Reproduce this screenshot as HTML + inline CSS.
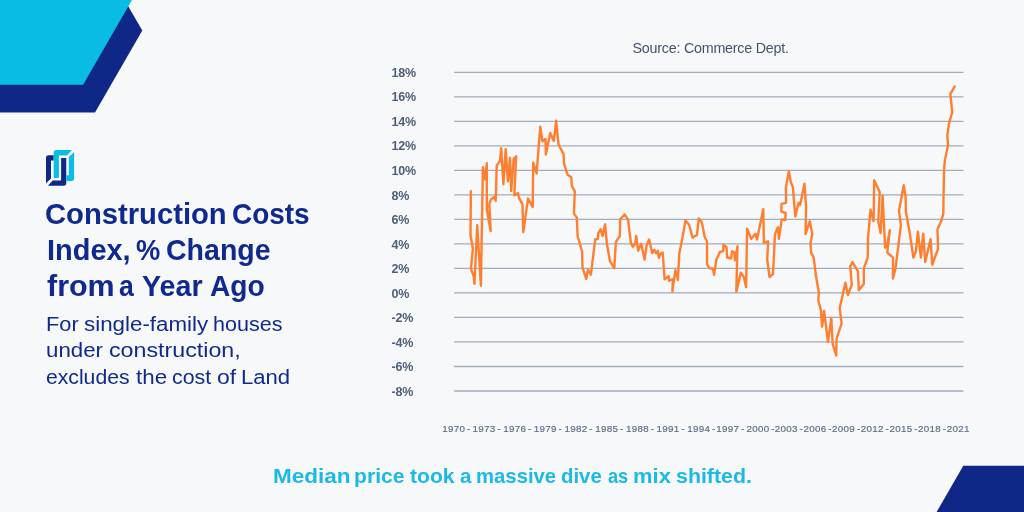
<!DOCTYPE html>
<html lang="en">
<head>
<meta charset="utf-8">
<title>Construction Costs Index</title>
<style>
html,body{margin:0;padding:0;}
body{width:1024px;height:512px;overflow:hidden;background:#f7f8fa;position:relative;font-family:"Liberation Sans",sans-serif;}
.abs{position:absolute;white-space:nowrap;}
svg{position:absolute;left:0;top:0;}
.w{position:absolute;white-space:nowrap;transform-origin:0 50%;}
.tt{font-weight:bold;font-size:29.5px;line-height:35.4px;color:#10298e;}
.ss{font-size:20.5px;line-height:24.6px;color:#10298e;}
.ff{font-weight:bold;font-size:21px;line-height:25.2px;color:#1bb9e4;}
.src{left:632.5px;top:38.9px;font-size:14.3px;line-height:18px;color:#44546a;letter-spacing:-0.23px;}
.yl{left:391.4px;font-size:12.5px;line-height:16px;color:#4f5f77;font-weight:bold;letter-spacing:-0.1px;}
.xl{top:423px;font-size:9.8px;line-height:12px;color:#5f6f85;-webkit-text-stroke:0.2px #5f6f85;letter-spacing:0.3px;word-spacing:-1.2px;}
</style>
</head>
<body>
<svg width="1024" height="512" viewBox="0 0 1024 512">
  <polygon points="0,0 124.6,0 142.3,30.6 95,112.6 0,112.6" fill="#0f2887"/>
  <polygon points="0,0 131.95,0 83.1,84.7 0,84.7" fill="#09bce4"/>
  <polygon points="963.3,465.8 1024,465.8 1024,512 936.6,512" fill="#0f2887"/>
  <g stroke="#a2adbc" stroke-width="1.3" fill="none">
    <line x1="454.1" x2="963.5" y1="72.30" y2="72.30"/>
    <line x1="454.1" x2="963.5" y1="96.81" y2="96.81"/>
    <line x1="454.1" x2="963.5" y1="121.33" y2="121.33"/>
    <line x1="454.1" x2="963.5" y1="145.84" y2="145.84"/>
    <line x1="454.1" x2="963.5" y1="170.36" y2="170.36"/>
    <line x1="454.1" x2="963.5" y1="194.88" y2="194.88"/>
    <line x1="454.1" x2="963.5" y1="219.39" y2="219.39"/>
    <line x1="454.1" x2="963.5" y1="243.91" y2="243.91"/>
    <line x1="454.1" x2="963.5" y1="268.42" y2="268.42"/>
    <line x1="454.1" x2="963.5" y1="292.94" y2="292.94"/>
    <line x1="454.1" x2="963.5" y1="317.45" y2="317.45"/>
    <line x1="454.1" x2="963.5" y1="341.97" y2="341.97"/>
    <line x1="454.1" x2="963.5" y1="366.48" y2="366.48"/>
    <line x1="454.1" x2="963.5" y1="391.00" y2="391.00"/>
  </g>
  <!--LINE--><polyline points="470.9,191.1 470.5,235.0 472.9,248.7 470.9,268.8 473.7,276.1 474.5,283.9 477.2,225.3 480.9,285.8 482.9,167.2 484.8,179.3 486.8,163.1 486.8,209.6 490.7,231.1 489.3,203.8 491.2,199.3 494.2,197.0 495.7,200.9 496.1,188.1 496.7,165.7 500.0,160.8 501.2,148.1 503.4,184.2 505.7,149.1 507.9,181.3 510.0,157.9 511.2,191.1 513.7,158.8 516.2,156.3 514.3,195.4 518.0,193.0 519.0,197.9 522.5,204.4 523.3,232.1 528.0,198.5 532.7,207.1 533.2,162.7 536.6,173.5 540.3,126.6 542.4,141.2 545.5,138.9 545.9,154.5 550.2,133.0 553.8,140.9 556.1,120.7 558.6,144.8 563.5,153.9 564.1,163.7 567.4,174.5 571.3,177.4 571.9,186.2 574.8,191.1 573.9,213.6 576.8,217.5 577.6,236.0 582.1,251.6 582.5,267.3 586.2,279.0 587.9,269.6 590.9,274.7 595.2,239.5 597.9,238.9 598.3,233.1 600.6,229.2 602.6,236.0 605.1,224.3 606.9,243.8 610.0,261.4 614.3,268.2 615.9,241.9 619.8,236.0 620.2,219.4 624.6,214.5 628.0,219.4 630.9,242.9 632.9,246.8 635.2,243.8 636.2,236.0 638.1,250.7 641.2,243.8 644.6,259.5 646.5,245.8 649.1,239.5 652.3,253.2 654.3,249.7 655.9,253.2 657.8,250.7 658.8,257.9 660.7,253.6 662.7,252.6 664.6,279.4 668.6,276.1 668.9,280.9 673.0,279.0 672.3,291.7 675.4,270.2 677.9,280.0 679.3,253.6 682.2,238.9 685.5,220.4 689.1,224.7 692.6,237.6 696.9,235.0 698.8,218.4 701.8,222.3 704.7,237.0 707.0,241.5 707.0,264.3 709.6,268.2 712.9,268.8 714.1,274.7 716.4,259.5 719.9,252.0 723.2,251.2 723.4,244.8 726.6,247.3 727.1,257.5 731.1,258.5 732.0,251.2 734.4,252.6 735.0,260.4 737.5,246.2 736.3,291.7 740.8,272.7 743.8,277.0 746.1,287.2 747.1,228.6 751.2,238.9 755.5,233.7 757.0,239.5 763.3,209.1 763.9,242.9 768.2,241.5 767.2,259.5 769.5,277.0 773.0,274.1 775.0,234.1 777.9,227.2 778.9,238.9 781.8,219.4 785.2,220.0 785.7,213.0 781.4,211.6 781.4,203.8 786.1,202.8 785.9,187.1 788.9,171.1 790.8,182.2 792.8,186.7 795.3,216.4 798.6,202.7 800.2,204.7 804.5,183.6 806.1,207.6 805.5,234.0 809.8,221.3 812.3,234.0 810.5,242.9 811.1,252.6 813.7,257.5 816.0,276.1 818.9,292.7 818.2,300.3 820.9,310.0 822.1,326.6 824.1,311.0 828.0,341.9 831.3,317.9 832.7,344.2 836.2,355.5 836.6,338.4 841.6,323.7 839.7,308.1 843.0,293.4 845.4,282.7 847.9,295.0 851.8,284.6 850.2,266.4 852.5,262.1 858.0,271.3 858.8,290.2 863.8,284.0 863.8,268.4 867.7,257.6 868.1,237.1 870.5,209.8 873.6,221.1 874.2,180.3 879.7,192.0 878.3,221.3 880.6,233.0 882.6,195.9 885.1,247.7 886.9,246.1 889.8,230.1 887.3,252.7 893.1,257.6 892.9,278.5 895.5,268.4 900.9,225.4 899.0,210.7 903.7,185.2 905.6,196.9 906.0,212.5 909.9,234.0 913.4,257.6 916.0,251.2 917.9,231.6 920.9,257.6 923.2,233.6 925.2,262.1 930.6,239.1 932.2,264.8 938.0,248.8 937.5,229.3 941.4,220.5 943.3,213.7 943.5,196.9 944.1,169.5 944.9,160.0 948.1,145.1 947.3,135.7 949.0,123.4 952.2,112.3 950.4,93.9 954.6,86.6" fill="none" stroke="#ff7f31" stroke-width="2.4" stroke-linejoin="round" stroke-linecap="round"/><!--/LINE-->
  <!--LOGO--><g>
    <path d="M48.5,155.3 H53.7 V160.5 H51 V178.4 L46,183.25 V157.8 Q46,155.3 48.5,155.3 Z" fill="#0f2887"/>
    <path d="M52.75,180.4 H61.1 V158 H66.25 V183.1 Q66.25,185.7 63.7,185.7 H47.9 Z" fill="#0f2887"/>
    <path d="M56.2,150.1 H71.9 L67.06,155.5 H58.9 V177 Q58.9,178 57.9,178 H54.7 Q53.7,178 53.7,177 V152.6 Q53.7,150.1 56.2,150.1 Z" fill="#0abde5"/>
    <path d="M74.1,152.1 V178.3 Q74.1,180.9 71.5,180.9 H66.25 V175.3 H68.8 V156.9 Z" fill="#0abde5"/>
  </g><!--/LOGO-->
</svg>
<div class="title">
<div class="ln"><span class="w tt" style="left:45.4px;top:196.2px;transform:scaleX(0.990)">Construction</span> <span class="w tt" style="left:231.9px;top:196.2px;transform:scaleX(0.947)">Costs</span></div>
<div class="ln"><span class="w tt" style="left:46.6px;top:231.9px;transform:scaleX(0.981)">Index,</span> <span class="w tt" style="left:135.9px;top:231.9px;transform:scaleX(0.925)">%</span> <span class="w tt" style="left:165.7px;top:231.9px;transform:scaleX(0.967)">Change</span></div>
<div class="ln"><span class="w tt" style="left:46.6px;top:267.6px;transform:scaleX(1.032)">from</span> <span class="w tt" style="left:118.5px;top:267.6px;transform:scaleX(0.902)">a</span> <span class="w tt" style="left:142.3px;top:267.6px;transform:scaleX(0.971)">Year</span> <span class="w tt" style="left:209.9px;top:267.6px;transform:scaleX(0.953)">Ago</span></div>
</div>
<div class="sub">
<div class="ln"><span class="w ss" style="left:45.7px;top:311.7px;transform:scaleX(1.061)">For</span> <span class="w ss" style="left:83.6px;top:311.7px;transform:scaleX(1.090)">single-family</span> <span class="w ss" style="left:213.1px;top:311.7px;transform:scaleX(1.051)">houses</span></div>
<div class="ln"><span class="w ss" style="left:45.7px;top:338.3px;transform:scaleX(1.086)">under</span> <span class="w ss" style="left:108.7px;top:338.3px;transform:scaleX(1.133)">construction,</span></div>
<div class="ln"><span class="w ss" style="left:46.1px;top:364.9px;transform:scaleX(1.032)">excludes</span> <span class="w ss" style="left:135.7px;top:364.9px;transform:scaleX(1.090)">the</span> <span class="w ss" style="left:171.6px;top:364.9px;transform:scaleX(1.041)">cost</span> <span class="w ss" style="left:217.0px;top:364.9px;transform:scaleX(1.120)">of</span> <span class="w ss" style="left:241.2px;top:364.9px;transform:scaleX(1.078)">Land</span></div>
</div>
<div class="foot">
<div class="ln"><span class="w ff" style="left:272.9px;top:463.4px;transform:scaleX(1.071)">Median</span> <span class="w ff" style="left:353.7px;top:463.4px;transform:scaleX(1.006)">price</span> <span class="w ff" style="left:410.1px;top:463.4px;transform:scaleX(1.000)">took</span> <span class="w ff" style="left:459.9px;top:463.4px;transform:scaleX(0.973)">a</span> <span class="w ff" style="left:476.1px;top:463.4px;transform:scaleX(0.967)">massive</span> <span class="w ff" style="left:561.4px;top:463.4px;transform:scaleX(0.970)">dive</span> <span class="w ff" style="left:607.9px;top:463.4px;transform:scaleX(0.864)">as</span> <span class="w ff" style="left:632.8px;top:463.4px;transform:scaleX(1.046)">mix</span> <span class="w ff" style="left:675.5px;top:463.4px;transform:scaleX(1.017)">shifted.</span></div>
</div>
<div class="abs src">Source: Commerce Dept.</div>
<div class="abs yl" style="top:64.9px">18%</div>
<div class="abs yl" style="top:89.4px">16%</div>
<div class="abs yl" style="top:113.9px">14%</div>
<div class="abs yl" style="top:138.4px">12%</div>
<div class="abs yl" style="top:163.0px">10%</div>
<div class="abs yl" style="top:187.5px">8%</div>
<div class="abs yl" style="top:212.0px">6%</div>
<div class="abs yl" style="top:236.5px">4%</div>
<div class="abs yl" style="top:261.0px">2%</div>
<div class="abs yl" style="top:285.5px">0%</div>
<div class="abs yl" style="top:310.0px">-2%</div>
<div class="abs yl" style="top:334.6px">-4%</div>
<div class="abs yl" style="top:359.1px">-6%</div>
<div class="abs yl" style="top:383.6px">-8%</div>
<div class="abs xl" style="left:442.3px">1970 - </div>
<div class="abs xl" style="left:472.6px">1973 - </div>
<div class="abs xl" style="left:503.3px">1976 - </div>
<div class="abs xl" style="left:533.7px">1979 - </div>
<div class="abs xl" style="left:564.4px">1982 - </div>
<div class="abs xl" style="left:595.3px">1985 - </div>
<div class="abs xl" style="left:625.9px">1988 - </div>
<div class="abs xl" style="left:656.6px">1991 - </div>
<div class="abs xl" style="left:687.3px">1994 -</div>
<div class="abs xl" style="left:716.2px">1997 - </div>
<div class="abs xl" style="left:746.5px">2000 -</div>
<div class="abs xl" style="left:774.8px">2003 -</div>
<div class="abs xl" style="left:803.5px">2006 -</div>
<div class="abs xl" style="left:832.1px">2009 -</div>
<div class="abs xl" style="left:860.8px">2012 -</div>
<div class="abs xl" style="left:889.5px">2015 -</div>
<div class="abs xl" style="left:918.0px">2018 -</div>
<div class="abs xl" style="left:946.7px">2021</div>
</body>
</html>
